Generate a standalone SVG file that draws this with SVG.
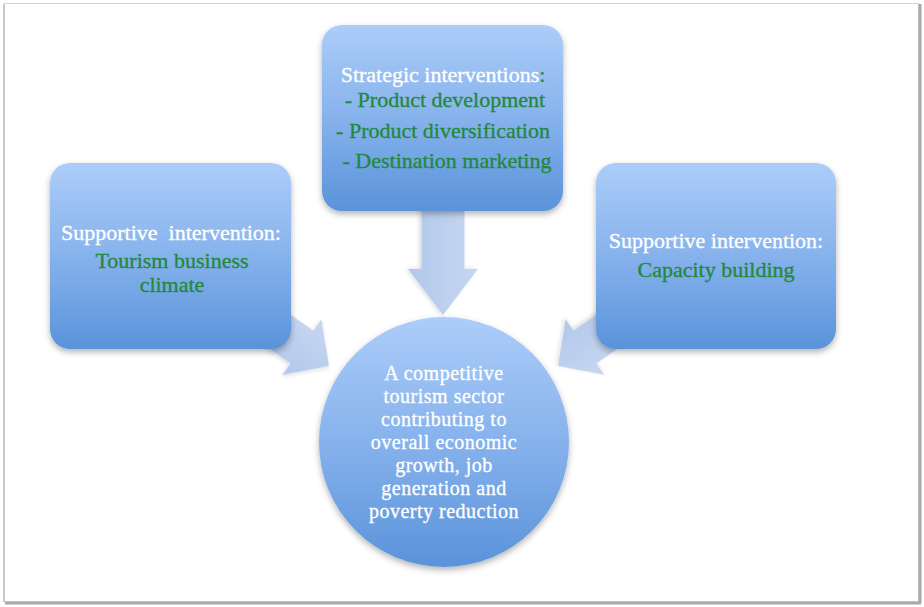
<svg xmlns="http://www.w3.org/2000/svg" width="924" height="607" viewBox="0 0 924 607">
<defs>
<linearGradient id="gBox" x1="0" y1="0" x2="0" y2="1">
<stop offset="0" stop-color="#accdf9"/>
<stop offset="0.5" stop-color="#86b2ec"/>
<stop offset="1" stop-color="#5a93da"/>
</linearGradient>
<linearGradient id="gArrow" x1="0" y1="0" x2="0" y2="1">
<stop offset="0" stop-color="#c6d7f1"/>
<stop offset="1" stop-color="#b2c8ea"/>
</linearGradient>
<filter id="sh" x="-10%" y="-10%" width="120%" height="125%">
<feDropShadow dx="0" dy="3" stdDeviation="3" flood-color="#000" flood-opacity="0.3"/>
</filter>
<filter id="ash" x="-20%" y="-20%" width="140%" height="140%">
<feDropShadow dx="0" dy="2" stdDeviation="2" flood-color="#000" flood-opacity="0.15"/>
</filter>
</defs>
<style>
.box{fill:url(#gBox);filter:url(#sh)}
.arrow{fill:url(#gArrow);filter:url(#ash)}
.t{font-family:"Liberation Serif","Times New Roman",serif;font-size:22px;text-anchor:middle}
.c{font-size:20px;letter-spacing:0.5px}
.w{fill:#ffffff;stroke:#ffffff;stroke-width:0.3px}
.g{fill:#23883a;stroke:#23883a;stroke-width:0.3px}
</style>
<rect x="0" y="0" width="924" height="607" fill="#ffffff"/>
<rect x="4.5" y="3.5" width="914" height="598" fill="#ffffff" stroke="#d4d4d4" stroke-width="1"/>
<line x1="920" y1="4" x2="920" y2="603" stroke="#a9a9a9" stroke-width="3"/>
<line x1="5" y1="603" x2="921" y2="603" stroke="#a9a9a9" stroke-width="3"/>
<line x1="4" y1="4" x2="4" y2="602" stroke="#c8c8c8" stroke-width="2"/>

<g id="connectors">
<polygon class="arrow" transform="translate(443,315) rotate(90)" points="-110,-21.5 -46,-21.5 -46,-35 0,0 -46,35 -46,21.5 -110,21.5"/>
<polygon class="arrow" transform="translate(329,366) rotate(35)" points="-95,-20 -33,-20 -33,-34 0,0 -33,34 -33,20 -95,20"/>
<polygon class="arrow" transform="translate(558,366) rotate(145)" points="-95,-20 -33,-20 -33,-34 0,0 -33,34 -33,20 -95,20"/>
</g>

<g id="node-strategic">
<rect class="box" x="322" y="25" width="241" height="186" rx="20"/>
<text class="t w" x="443" y="82">Strategic interventions<tspan class="g">:</tspan></text>
<text class="t g" x="445" y="107">- Product development</text>
<text class="t g" x="443" y="138">- Product diversification</text>
<text class="t g" x="447" y="168">- Destination marketing</text>
</g>

<g id="node-business">
<rect class="box" x="50" y="163" width="241" height="186" rx="20"/>
<text class="t w" x="171" y="240" xml:space="preserve">Supportive  intervention:</text>
<text class="t g" x="172" y="268">Tourism business</text>
<text class="t g" x="172" y="292">climate</text>
</g>

<g id="node-capacity">
<rect class="box" x="596" y="163" width="240" height="186" rx="20"/>
<text class="t w" x="716" y="248">Supportive intervention:</text>
<text class="t g" x="716" y="277">Capacity building</text>
</g>

<g id="node-goal">
<circle cx="444" cy="442" r="125" fill="url(#gBox)" filter="url(#sh)"/>
<text class="t c w" x="444" y="380">A competitive</text>
<text class="t c w" x="444" y="403">tourism sector</text>
<text class="t c w" x="444" y="426">contributing to</text>
<text class="t c w" x="444" y="449">overall economic</text>
<text class="t c w" x="444" y="472">growth, job</text>
<text class="t c w" x="444" y="495">generation and</text>
<text class="t c w" x="444" y="518">poverty reduction</text>
</g>
</svg>
